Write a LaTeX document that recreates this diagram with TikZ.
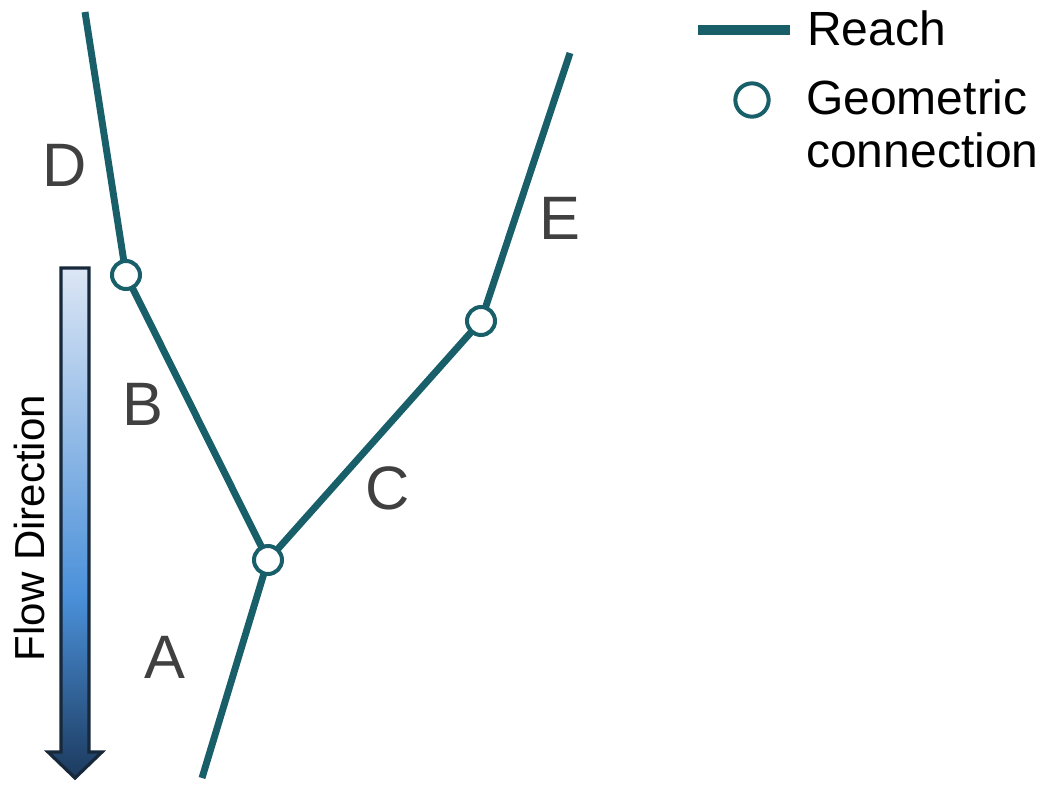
\documentclass[tikz,border=0pt]{standalone}
\usepackage{fontspec}
\setmainfont{Liberation Sans}
\definecolor{reachc}{RGB}{24,95,106}
\definecolor{lettc}{RGB}{64,64,64}
\definecolor{arlight}{RGB}{220,230,245}
\definecolor{armid}{RGB}{74,144,217}
\definecolor{ardark}{RGB}{28,58,94}
\definecolor{arline}{RGB}{22,40,58}
\pgfdeclareverticalshading{flowshade}{100bp}{color(0bp)=(ardark); color(25bp)=(ardark); color(42.75bp)=(armid); color(75bp)=(arlight); color(100bp)=(arlight)}
\begin{document}
\begin{tikzpicture}[x=0.75pt,y=-0.75pt,
  reach/.style={draw=reachc,line width=5.2pt},
  conn/.style={circle,draw=reachc,fill=white,line width=3pt,minimum size=21pt,inner sep=0pt},
  letter/.style={text=lettc,font=\fontsize{46}{50}\selectfont,inner sep=0pt},
  legtext/.style={text=black,font=\fontsize{36}{40}\selectfont,inner sep=0pt}]
\useasboundingbox (0,0) rectangle (1050,786);
% flow direction arrow
\shade[shading=flowshade,draw=arline,line width=2.4pt,line join=miter]
  (61,268) -- (89,268) -- (89,752) -- (102,752) -- (75,778) -- (48,752) -- (61,752) -- cycle;
\node[text=black,font=\fontsize{31.5}{36}\selectfont,rotate=90,inner sep=0pt] (flow) at (29,528) {Flow Direction};
% reaches
\coordinate (dtop) at (85,12);
\coordinate (etop) at (570,53);
\coordinate (abot) at (202,778);
\coordinate (p1) at (126,275);
\coordinate (p2) at (268,560);
\coordinate (p3) at (481,321);
\draw[reach] (dtop) -- (p1);
\draw[reach] (p1) -- (p2);
\draw[reach] (p2) -- (p3);
\draw[reach] (p3) -- (etop);
\draw[reach] (p2) -- (abot);
\node[conn] (n1) at (p1) {};
\node[conn] (n2) at (p2) {};
\node[conn] (n3) at (p3) {};
% labels
\node[letter] (lD) at (65,165) {D};
\node[letter] (lB) at (143,404) {B};
\node[letter] (lA) at (165,657) {A};
\node[letter] (lC) at (388,488) {C};
\node[letter] (lE) at (560,218) {E};
% legend
\coordinate (lg1) at (698,30);
\coordinate (lg2) at (790,30);
\draw[draw=reachc,line width=8pt] (lg1) -- (lg2);
\node[legtext,anchor=base west] (treach) at (807,45) {Reach};
\node[circle,draw=reachc,fill=white,line width=3pt,minimum size=25pt,inner sep=0pt] (lgc) at (752,100) {};
\node[legtext,anchor=base west] (tgeo) at (806,114) {Geometric};
\node[legtext,anchor=base west] (tconn) at (806,167) {connection};
\end{tikzpicture}
\end{document}
